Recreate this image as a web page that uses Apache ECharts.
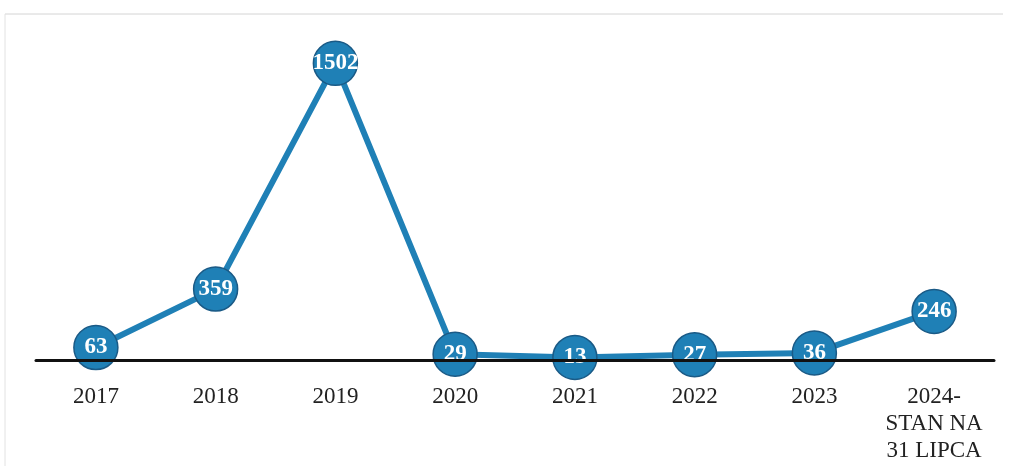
<!DOCTYPE html>
<html>
<head>
<meta charset="utf-8">
<script src="https://cdn.jsdelivr.net/npm/echarts@6/dist/echarts.min.js"></script>
<style>
html,body{margin:0;padding:0;background:#fff;}
#chart{width:1009px;height:466px;}
</style>
</head>
<body>
<div id="chart"></div>
<script>
const categories = ['2017', '2018', '2019', '2020', '2021', '2022', '2023', '2024-\nSTAN NA\n31 LIPCA'];
const values = [63, 359, 1502, 29, 13, 27, 36, 246];

const chart = echarts.init(document.getElementById('chart'));
chart.setOption({
  backgroundColor: '#ffffff',
  animation: false,
  graphic: [
    { type: 'line', shape: { x1: 5, y1: 14, x2: 1003, y2: 14 }, style: { stroke: '#d4d4d4', lineWidth: 1 }, silent: true },
    { type: 'line', shape: { x1: 5, y1: 14, x2: 5, y2: 466 }, style: { stroke: '#e2e2e2', lineWidth: 1 }, silent: true }
  ],
  grid: { left: 36, right: 15, top: 44, bottom: 106 },
  xAxis: {
    type: 'category',
    data: categories,
    boundaryGap: true,
    z: 10,
    axisLine: { show: true, lineStyle: { color: '#111', width: 3 } },
    axisTick: { show: false },
    axisLabel: {
      margin: 23,
      fontFamily: '"Liberation Serif", "DejaVu Serif", serif',
      fontSize: 23,
      lineHeight: 27,
      color: '#222',
      interval: 0
    }
  },
  yAxis: {
    type: 'value',
    min: 0,
    max: 1600,
    show: false,
    splitLine: { show: false }
  },
  series: [{
    type: 'line',
    data: values,
    symbol: 'circle',
    symbolSize: 44,
    lineStyle: { color: '#1f80b6', width: 6 },
    itemStyle: { color: '#1f80b6', borderColor: '#1a5a86', borderWidth: 1.5 },
    label: {
      show: true,
      position: 'inside',
      color: '#ffffff',
      fontFamily: '"Liberation Serif", "DejaVu Serif", serif',
      fontWeight: 'bold',
      fontSize: 23
    }
  }]
});
</script>
</body>
</html>
